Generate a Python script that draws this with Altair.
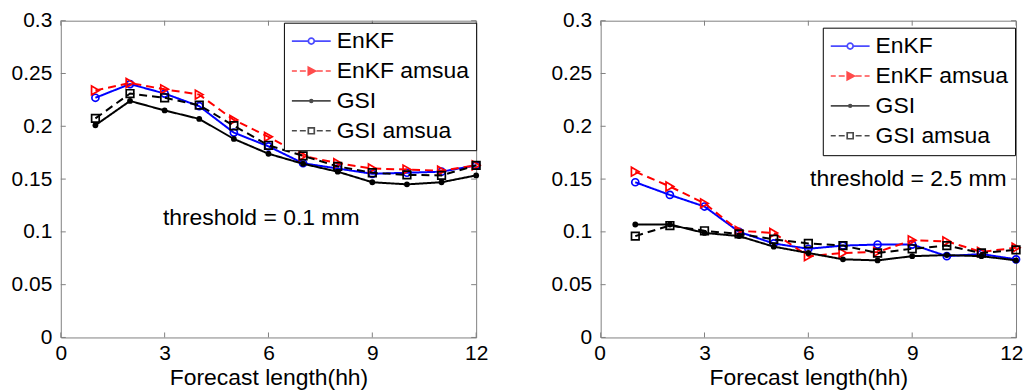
import altair as alt
import pandas as pd

# ---------------- data ----------------
hours = [1, 2, 3, 4, 5, 6, 7, 8, 9, 10, 11, 12]
series_names = ["EnKF", "EnKF amsua", "GSI", "GSI amsua"]

# threshold = 0.1 mm
left_enkf = [0.227, 0.240, 0.231, 0.219, 0.194, 0.181, 0.165, 0.160, 0.155, 0.156, 0.157, 0.163]
left_enkf_amsua = [0.234, 0.241, 0.235, 0.230, 0.206, 0.190, 0.172, 0.165, 0.160, 0.159, 0.158, 0.163]
left_gsi = [0.201, 0.224, 0.215, 0.207, 0.188, 0.174, 0.1645, 0.157, 0.147, 0.145, 0.147, 0.1535]
left_gsi_amsua = [0.2075, 0.231, 0.227, 0.220, 0.2005, 0.182, 0.172, 0.162, 0.156, 0.154, 0.1535, 0.163]

# threshold = 2.5 mm
right_enkf = [0.147, 0.135, 0.124, 0.100, 0.089, 0.084, 0.087, 0.088, 0.088, 0.077, 0.079, 0.074]
right_enkf_amsua = [0.157, 0.143, 0.127, 0.101, 0.099, 0.077, 0.080, 0.081, 0.092, 0.091, 0.081, 0.085]
right_gsi = [0.107, 0.107, 0.099, 0.096, 0.086, 0.080, 0.074, 0.073, 0.077, 0.078, 0.077, 0.073]
right_gsi_amsua = [0.096, 0.106, 0.101, 0.098, 0.093, 0.089, 0.087, 0.080, 0.084, 0.087, 0.080, 0.083]

x_ticks = [0, 3, 6, 9, 12]
y_ticks = [0, 0.05, 0.1, 0.15, 0.2, 0.25, 0.3]

annot_text = ["threshold = 0.1 mm", "threshold = 2.5 mm"]
annot_hour = [2.95, 6.05]
annot_value = [0.113, 0.150]

# ---------------- styles ----------------
FONT = "Liberation Sans"
FRAME = "#808080"
W, H = 417, 318
colors = ["#0000ff", "#ff0000", "#000000", "#000000"]
dashes = [[1, 0], [8, 5], [1, 0], [8, 5]]
shapes = ["circle", "triangle-right", "circle", "square"]
marker_sizes = [50, 80, 34, 58]
marker_filled = [False, False, True, False]

circ = "M0.3,0A0.3,0.3 0 1 1 -0.3,0A0.3,0.3 0 1 1 0.3,0"
dot = "M0.14,0A0.14,0.14 0 1 1 -0.14,0A0.14,0.14 0 1 1 0.14,0"
tri = "M-0.3,-0.38L0.42,0L-0.3,0.38ZM-0.15,-0.18L0.2,0L-0.15,0.18Z"
sq = "M-0.3,-0.3H0.3V0.3H-0.3Z"
solid_l = "M-1.95,0H-0.3M0.3,0H1.95"
dash_l = "M-1.95,0H-1.45M-1.15,0H-0.55M0.55,0H1.15M1.45,0H1.95"
legend_paths = [solid_l + circ, dash_l + tri, "M-1.95,0H1.95" + dot, dash_l + sq]


def panel(values, ann_idx, leg_x, leg_y, flush):
    df = pd.DataFrame({
        "hour": hours * 4,
        "value": sum(values, []),
        "series": sum([[n] * len(hours) for n in series_names], []),
    })
    xax = alt.Axis(values=x_ticks, title="Forecast length(hh)", labelPadding=5,
                   titlePadding=3, labelFlush=flush, labelFlushOffset=7 if flush else 0)
    x = alt.X("hour:Q", scale=alt.Scale(domain=[0, 12], nice=False, zero=False), axis=xax)
    y = alt.Y("value:Q", scale=alt.Scale(domain=[0, 0.3], nice=False),
              axis=alt.Axis(values=y_ticks, title=None, format="~g", labelPadding=9))

    layers = []
    for i, name in enumerate(series_names):
        base = alt.Chart(df).transform_filter(alt.datum.series == name)
        layers.append(base.mark_line(color=colors[i], strokeWidth=2,
                                     strokeDash=dashes[i]).encode(x=x, y=y))
        layers.append(base.mark_point(shape=shapes[i], size=marker_sizes[i],
                                      filled=marker_filled[i], color=colors[i],
                                      strokeWidth=1.7, opacity=1).encode(x=x, y=y))

    xt = pd.DataFrame({"hour": x_ticks})
    yt = pd.DataFrame({"value": y_ticks})
    layers.append(alt.Chart(xt).mark_rule(color=FRAME).encode(x="hour:Q", y=alt.value(H), y2=alt.value(H - 5)))
    layers.append(alt.Chart(xt).mark_rule(color=FRAME).encode(x="hour:Q", y=alt.value(0), y2=alt.value(5)))
    layers.append(alt.Chart(yt).mark_rule(color=FRAME).encode(y="value:Q", x=alt.value(0), x2=alt.value(5)))
    layers.append(alt.Chart(yt).mark_rule(color=FRAME).encode(y="value:Q", x=alt.value(W), x2=alt.value(W - 5)))

    ann = pd.DataFrame({"hour": [annot_hour[ann_idx]], "value": [annot_value[ann_idx]],
                        "text": [annot_text[ann_idx]]})
    layers.append(alt.Chart(ann).mark_text(align="left", baseline="middle", font=FONT,
                                           fontSize=23, color="black")
                  .encode(x="hour:Q", y="value:Q", text="text:N"))

    leg = alt.Legend(title=None, orient="none", legendX=leg_x, legendY=leg_y,
                     labelFont=FONT, labelFontSize=23, labelColor="black",
                     symbolSize=400, symbolOffset=9, labelOffset=14, padding=7,
                     rowPadding=6, strokeColor="black", fillColor="white",
                     symbolStrokeWidth=1.7, symbolFillColor="transparent",
                     labelLimit=400)
    lg_df = pd.DataFrame({"lg": series_names})
    layers.append(alt.Chart(lg_df).transform_filter("false").mark_point(filled=False, strokeWidth=1.7)
                  .encode(color=alt.Color("lg:N", scale=alt.Scale(domain=series_names, range=colors), legend=leg),
                          shape=alt.Shape("lg:N", scale=alt.Scale(domain=series_names, range=legend_paths), legend=leg)))

    return alt.layer(*layers).properties(width=W, height=H)


left = panel([left_enkf, left_enkf_amsua, left_gsi, left_gsi_amsua], 0, 224, 2, False)
right = panel([right_enkf, right_enkf_amsua, right_gsi, right_gsi_amsua], 1, 223, 7, True)

chart = (
    alt.hconcat(left, right, spacing=61)
    .resolve_scale(color="independent", shape="independent")
    .resolve_legend(color="independent", shape="independent")
    .properties(padding={"left": 2, "top": 0, "right": 0, "bottom": 0})
    .configure_view(stroke=FRAME, strokeWidth=1)
    .configure_axis(labelFont=FONT, labelFontSize=21, labelColor="black",
                    titleFont=FONT, titleFontSize=23, titleFontWeight="normal",
                    titleColor="black", domain=False, ticks=False, grid=False)
)

chart.save("out.html", embed_options={"renderer": "svg", "actions": False})
